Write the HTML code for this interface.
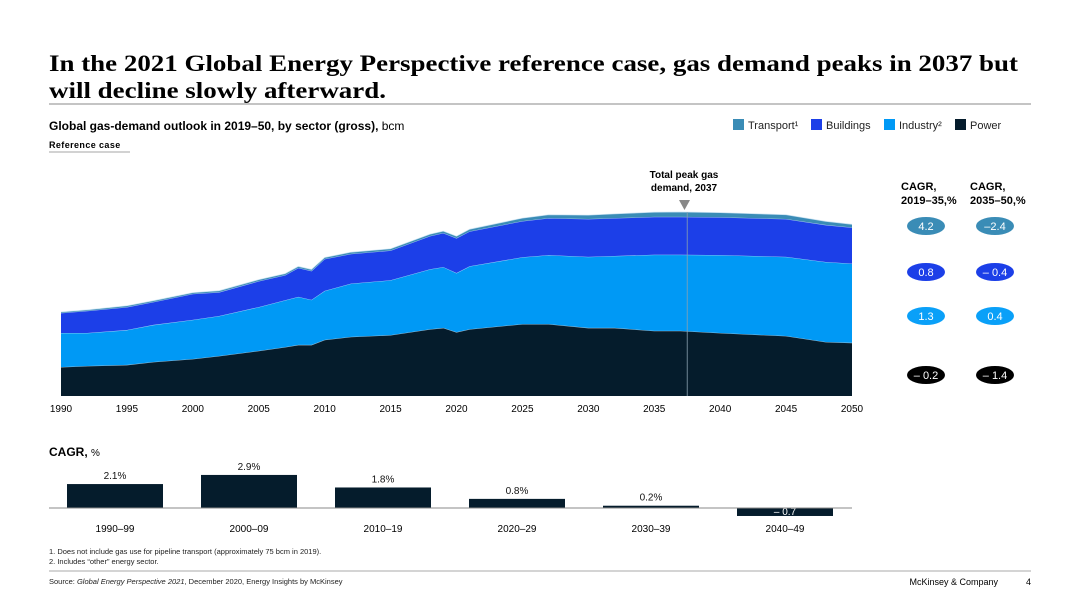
<!DOCTYPE html>
<html><head><meta charset="utf-8"><style>
html,body{margin:0;padding:0;background:#fff}
svg{display:block;font-family:"Liberation Sans",Arial,sans-serif}
</style></head><body>
<svg id="c" width="1080" height="607" viewBox="0 0 1080 607">
<text x="49" y="71" font-family="Liberation Serif,serif" font-weight="bold" font-size="23" textLength="969" lengthAdjust="spacingAndGlyphs" fill="#000">In the 2021 Global Energy Perspective reference case, gas demand peaks in 2037 but</text>
<text x="49" y="98" font-family="Liberation Serif,serif" font-weight="bold" font-size="23" textLength="337" lengthAdjust="spacingAndGlyphs" fill="#000">will decline slowly afterward.</text>
<line x1="49" y1="104" x2="1031" y2="104" stroke="#888" stroke-width="1"/>
<text x="49" y="130" font-size="12" fill="#000"><tspan font-weight="bold">Global gas-demand outlook in 2019–50, by sector (gross),</tspan> bcm</text>
<text x="49" y="148" font-size="9" font-weight="bold" fill="#000" letter-spacing="0.4">Reference case</text>
<line x1="49" y1="152" x2="130" y2="152" stroke="#888" stroke-width="0.8"/>
<g id="legend"></g>
<g id="area"></g>
<g id="xaxis"></g>
<text x="684" y="178" font-size="10" font-weight="bold" text-anchor="middle">Total peak gas</text>
<text x="684" y="191" font-size="10" font-weight="bold" text-anchor="middle">demand, 2037</text>
<polygon points="679,200 690,200 684.5,210" fill="#888"/>
<text x="901" y="190" font-size="11" font-weight="bold">CAGR,</text>
<text x="901" y="204" font-size="11" font-weight="bold">2019–35,%</text>
<text x="970" y="190" font-size="11" font-weight="bold">CAGR,</text>
<text x="970" y="204" font-size="11" font-weight="bold">2035–50,%</text>
<g id="pills"></g>
<text x="49" y="456" font-size="12" font-weight="bold">CAGR, <tspan font-weight="normal" font-size="10">%</tspan></text>
<g id="bars"></g>
<text x="49" y="554" font-size="7.5" fill="#222">1. Does not include gas use for pipeline transport (approximately 75 bcm in 2019).</text>
<text x="49" y="564" font-size="7.5" fill="#222">2. Includes “other” energy sector.</text>
<line x1="49" y1="571" x2="1031" y2="571" stroke="#aaa" stroke-width="1"/>
<text x="49" y="584" font-size="7.5" fill="#222">Source: <tspan font-style="italic">Global Energy Perspective 2021</tspan>, December 2020, Energy Insights by McKinsey</text>
<text x="998" y="585" font-size="9" text-anchor="end">McKinsey &amp; Company</text>
<text x="1031" y="585" font-size="9" text-anchor="end">4</text>
</svg>
<script>
const years=[1990,1992,1995,1997,2000,2002,2005,2007,2008,2009,2010,2012,2015,2018,2019,2020,2021,2025,2027,2030,2032,2035,2037,2040,2045,2048,2050];
const power=[680,705,730,800,870,940,1060,1150,1200,1200,1320,1390,1430,1570,1600,1500,1570,1690,1690,1600,1600,1530,1530,1480,1410,1270,1250];
const industry=[800,775,820,870,920,940,1030,1100,1130,1060,1150,1250,1290,1410,1430,1390,1480,1570,1620,1670,1690,1790,1790,1830,1860,1880,1860];
const buildings=[470,520,540,540,610,560,610,590,680,680,750,700,700,780,800,820,820,850,870,890,890,890,890,890,890,870,850];
const transport=[25,25,30,30,30,35,35,35,35,35,35,40,40,45,45,45,50,70,80,90,100,110,115,110,100,85,75];
const xTicks=[1990,1995,2000,2005,2010,2015,2020,2025,2030,2035,2040,2045,2050];
const periods=["1990–99","2000–09","2010–19","2020–29","2030–39","2040–49"];
const cagr=[2.1,2.9,1.8,0.8,0.2,-0.7];
const cagrLabels=["2.1%","2.9%","1.8%","0.8%","0.2%","– 0.7"];
const cagrA=["4.2","0.8","1.3","– 0.2"];
const cagrB=["–2.4","– 0.4","0.4","– 1.4"];
const peakYear=2037.5;
const NS="http://www.w3.org/2000/svg";
function mk(t,a,p){const e=document.createElementNS(NS,t);for(const k in a)e.setAttribute(k,a[k]);p.appendChild(e);return e;}
const X=y=>61+(y-1990)*(852-61)/60;
const Y=v=>396-v/23.5;
const colors={transport:"#3a8cb6",buildings:"#1c3fe8",industry:"#0099f5",power:"#051c2c"};
// area
const area=document.getElementById('area');
const series=[["power",power],["industry",industry],["buildings",buildings],["transport",transport]];
let base=years.map(()=>0);
series.forEach(([name,vals])=>{
  const top=base.map((b,i)=>b+vals[i]);
  let d="M"+years.map((y,i)=>X(y)+","+Y(top[i])).join("L");
  for(let i=years.length-1;i>=0;i--)d+="L"+X(years[i])+","+Y(base[i]);
  d+="Z";
  const p=mk('path',{d:d,fill:colors[name]},area);
  
  
  const l=mk('path',{d:"M"+years.map((y,i)=>X(y)+","+Y(top[i])).join("L"),fill:"none",stroke:"#cfe6f5","stroke-width":0.8,opacity:0.8},area);
  
  
  base=top;
});
const pl=mk('line',{x1:X(peakYear),x2:X(peakYear),y1:212,y2:396,stroke:"#8aa0b0","stroke-width":0.8},area);


// x axis
const xa=document.getElementById('xaxis');
xTicks.forEach(t=>{const e=mk('text',{x:X(t),y:412,"font-size":10,"text-anchor":"middle"},xa);e.textContent=t;

});
// legend
const lg=document.getElementById('legend');
[["transport","Transport¹",733],["buildings","Buildings",811],["industry","Industry²",884],["power","Power",955]].forEach(([k,lab,x])=>{
  const r=mk('rect',{x:x,y:119,width:11,height:11,fill:colors[k]},lg);
  
  
  const t=mk('text',{x:x+15,y:129,"font-size":11,fill:"#222"},lg);t.textContent=lab;
  
  
});
// pills
const pg=document.getElementById('pills');
const pc=[colors.transport,colors.buildings,"#0aa0f8","#000"];
const py=[226,272,316,375];
[[cagrA,926],[cagrB,995]].forEach(([arr,cx],j)=>arr.forEach((v,i)=>{
  const e=mk('ellipse',{cx:cx,cy:py[i],rx:19,ry:9,fill:pc[i]},pg);
  
  
  const t=mk('text',{x:cx,y:py[i]+4,"font-size":11,fill:"#fff","text-anchor":"middle"},pg);t.textContent=v;
  
  
}));
// bars
const bg=document.getElementById('bars');
const B0=508,BS=11.4;
periods.forEach((p,i)=>{
  const cx=115+i*134,v=cagr[i];
  const y=v>=0?B0-v*BS:B0;const h=Math.abs(v)*BS;
  const r=mk('rect',{x:cx-48,y:y,width:96,height:h,fill:"#051c2c"},bg);
  
  
  const t=mk('text',{x:cx,y:v>=0?y-5:B0+h-1,"font-size":10,"text-anchor":"middle",fill:v>=0?"#111":"#fff"},bg);t.textContent=cagrLabels[i];
  
  
  const c=mk('text',{x:cx,y:532,"font-size":10,"text-anchor":"middle"},bg);c.textContent=p;
  
  
});
const bl=mk('line',{x1:49,x2:852,y1:B0,y2:B0,stroke:"#888","stroke-width":1},bg);


</script>
</body></html>
